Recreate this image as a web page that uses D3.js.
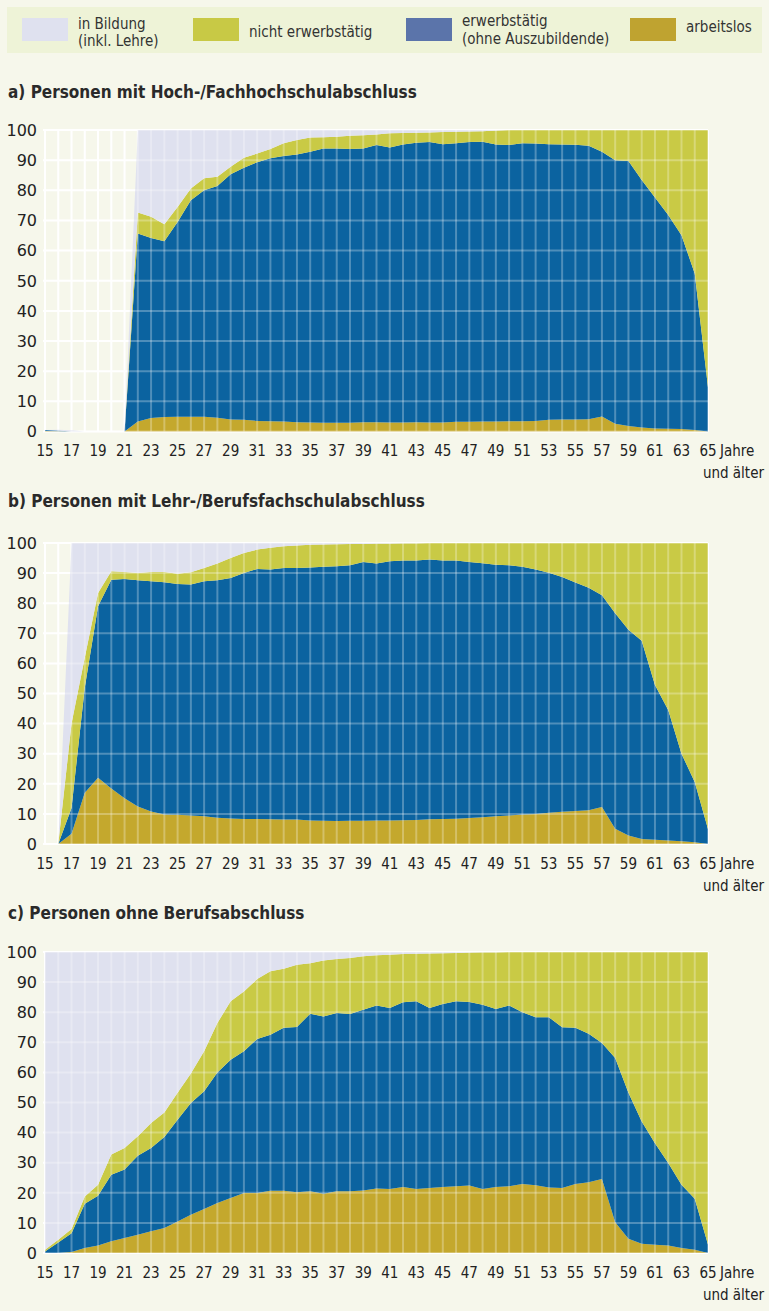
<!DOCTYPE html>
<html><head><meta charset="utf-8">
<script src="https://cdn.jsdelivr.net/npm/d3@7/dist/d3.min.js"></script>
<style>body{margin:0;background:#f6f7eb;} svg{display:block}</style>
</head><body>
<svg id="chart" width="769" height="1311"></svg>
<script>
// ---------- categories & ticks ----------
const ages = [15,16,17,18,19,20,21,22,23,24,25,26,27,28,29,30,31,32,33,34,35,36,37,38,39,40,
  41,42,43,44,45,46,47,48,49,50,51,52,53,54,55,56,57,58,59,60,61,62,63,64,65];
const xTickAges = [15,17,19,21,23,25,27,29,31,33,35,37,39,41,43,45,47,49,51,53,55,57,59,61,63,65];
const yTicks = [0,10,20,30,40,50,60,70,80,90,100];
const seriesNames = ["in Bildung\n(inkl. Lehre)", "nicht erwerbstätig", "erwerbstätig\n(ohne Auszubildende)", "arbeitslos"];

// ---------- a) Hoch-/Fachhochschulabschluss (percent, ages 15..65) ----------
const aArbeitslos = [0.2,0.1,0,0,0,0,0, 3.3,4.5,4.8,4.9,4.9,4.9,4.6,4.0,3.9,3.5,3.4,3.3,3.1,3.0,2.9,2.9,2.9,3.1,3.1,
  3.0,3.0,3.1,3.0,3.0,3.2,3.2,3.3,3.3,3.4,3.4,3.5,3.9,4.0,4.0,4.1,5.0,2.6,1.8,1.3,1.0,0.9,0.8,0.5,0.0];
const aErwerb = [0.3,0.2,0,0,0,0,0, 62.4,59.7,58.3,64.6,71.8,75.1,76.8,81.3,83.6,85.8,87.2,88.1,88.8,89.8,91.0,91.0,90.8,90.8,91.9,
  91.2,92.2,92.7,93.0,92.3,92.4,92.8,92.8,91.9,91.6,92.2,92.0,91.4,91.2,91.1,90.7,87.8,87.4,87.9,82.1,76.6,70.9,64.3,51.9,14.7];
const aNicht = [0,0,0,0,0,0,0, 6.9,7.0,5.6,5.0,3.9,4.0,3.1,2.5,3.3,2.9,3.1,4.2,4.8,4.7,3.7,3.9,4.4,4.4,3.5,
  4.7,3.8,3.3,3.2,4.0,3.8,3.5,3.5,4.6,5.0,4.4,4.5,4.7,4.8,4.9,5.2,7.2,10.0,10.3,16.6,22.4,28.2,34.9,47.6,85.3];
const aBildung = [0,0.3,0.4,0,0,0,0, 27.4,28.8,31.3,25.5,19.4,16.0,15.5,12.2,9.2,7.8,6.3,4.4,3.3,2.5,2.4,2.2,1.9,1.7,1.5,
  1.1,1.0,0.9,0.8,0.7,0.6,0.5,0.4,0.2,0,0,0,0,0,0,0,0,0,0,0,0,0,0,0,0];

// ---------- b) Lehr-/Berufsfachschulabschluss ----------
const bArbeitslos = [0,0,3.4,17.0,22.0,18.4,15.2,12.5,10.8,9.8,9.7,9.5,9.2,8.7,8.5,8.3,8.3,8.2,8.1,8.1,7.8,7.7,7.6,7.7,7.7,7.8,
  7.8,7.9,8.0,8.2,8.3,8.4,8.6,8.9,9.2,9.5,9.8,10.0,10.4,10.7,11.0,11.2,12.3,5.1,2.8,1.7,1.4,1.2,0.9,0.6,0.0];
const bErwerb = [0,0,8.6,35.0,57.0,69.4,72.8,75.1,76.5,77.2,76.7,76.7,78.1,78.9,79.9,81.7,83.1,83.0,83.6,83.6,84.1,84.4,84.7,84.9,86.0,85.4,
  86.1,86.3,86.2,86.3,85.9,85.8,85.1,84.4,83.6,83.1,82.3,81.2,79.7,78.0,75.9,73.9,70.3,71.6,68.4,65.8,51.4,43.3,29.1,20.0,5.0];
const bNicht = [0,0,28.0,10.0,4.4,2.8,2.4,2.4,3.1,3.4,3.4,4.1,4.4,5.6,6.6,6.7,6.4,7.2,7.2,7.5,7.5,7.4,7.3,7.1,6.0,6.6,
  5.9,5.7,5.7,5.5,5.8,5.8,6.3,6.7,7.2,7.4,7.9,8.8,9.9,11.3,13.1,14.9,17.4,23.3,28.8,32.5,47.2,55.5,70.0,79.4,95.0];
const bBildung = [0,0,60.0,38.0,16.6,9.4,9.6,10.0,9.6,9.6,10.2,9.7,8.3,6.8,5.0,3.3,2.2,1.6,1.1,0.8,0.6,0.5,0.4,0.3,0.3,0.2,
  0.2,0.1,0.1,0,0,0,0,0,0,0,0,0,0,0,0,0,0,0,0,0,0,0,0,0,0];

// ---------- c) ohne Berufsabschluss ----------
const cArbeitslos = [0,0,0.3,1.7,2.5,3.9,5.0,6.1,7.2,8.3,10.5,12.7,14.6,16.6,18.3,19.9,19.9,20.7,20.7,20.2,20.5,19.7,20.5,20.5,20.8,21.4,
  21.3,21.9,21.3,21.6,21.9,22.2,22.4,21.3,21.9,22.2,22.9,22.5,21.8,21.6,22.9,23.5,24.6,10.2,4.7,3.1,2.7,2.5,1.7,1.1,0.0];
const cErwerb = [0.5,3.5,6.3,14.7,16.5,22.1,22.7,26.2,27.7,30.2,33.8,37.1,39.1,43.4,45.9,47.1,51.2,51.8,54.1,54.9,59.0,58.9,59.2,58.9,60.0,60.8,
  60.1,61.4,62.3,59.8,60.8,61.4,61.0,61.2,59.2,60.0,57.1,55.8,56.5,53.4,51.9,49.3,45.2,54.6,48.5,40.6,33.8,27.4,21.0,16.9,2.8];
const cNicht = [0.6,0.9,1.4,2.4,3.7,6.7,7.2,6.5,8.3,8.2,8.9,9.8,13.3,16.4,19.4,19.9,19.9,21.1,19.6,20.7,16.8,18.6,18.0,18.6,17.8,16.7,
  17.7,16.0,15.8,18.1,16.9,16.1,16.4,17.4,18.8,17.8,20.0,21.7,21.7,25.0,25.2,27.2,30.2,35.2,46.8,56.3,63.5,70.1,77.3,82.0,97.2];
const cBildung = [98.9,95.6,92.0,81.2,77.3,67.3,65.1,61.2,56.8,53.3,46.8,40.4,33.0,23.6,16.4,13.1,9.0,6.4,5.6,4.2,3.7,2.8,2.3,2.0,1.4,1.1,
  0.9,0.7,0.6,0.5,0.4,0.3,0.2,0.1,0.1,0,0,0,0,0,0,0,0,0,0,0,0,0,0,0,0];

// ---------- styling ----------
const colBildung = "#dfe1ef", colNicht = "#c9ca45", colErwerb = "#0b63a0", colArbeitslos = "#c4a82d";
const legendColors = ["#dfe1ef", "#c8c945", "#5b74aa", "#bfa330"];
const keys = ["arbeitslos","erwerbstaetig","nicht","bildung"];
const fills = {arbeitslos: colArbeitslos, erwerbstaetig: colErwerb, nicht: colNicht, bildung: colBildung};

const panels = [
  {title:"a) Personen mit Hoch-/Fachhochschulabschluss", top:130, bottom:431.5, titleY:98,
   arbeitslos:aArbeitslos, erwerbstaetig:aErwerb, nicht:aNicht, bildung:aBildung},
  {title:"b) Personen mit Lehr-/Berufsfachschulabschluss", top:543, bottom:844, titleY:507,
   arbeitslos:bArbeitslos, erwerbstaetig:bErwerb, nicht:bNicht, bildung:bBildung},
  {title:"c) Personen ohne Berufsabschluss", top:952, bottom:1253, titleY:919,
   arbeitslos:cArbeitslos, erwerbstaetig:cErwerb, nicht:cNicht, bildung:cBildung}
];

const svg = d3.select("#chart");
const x = d3.scaleLinear().domain([15, 65]).range([45, 708]);
const condensed = "'DejaVu Sans Condensed', 'DejaVu Sans', sans-serif";

// ---------- legend ----------
svg.append("rect").attr("x", 7).attr("y", 7).attr("width", 755).attr("height", 46).attr("fill", "#eef3d7");
const legX = [22, 193, 406, 630];
const legTextY = [[29, 46], [37], [26, 44], [32]];
seriesNames.forEach((name, i) => {
  svg.append("rect").attr("x", legX[i]).attr("y", 18).attr("width", 46).attr("height", 23).attr("fill", legendColors[i]);
  const lines = name.split("\n");
  lines.forEach((ln, j) => {
    svg.append("text").attr("x", legX[i] + 56).attr("y", legTextY[i][j])
      .attr("font-family", condensed).attr("font-size", 15).attr("fill", "#333").text(ln);
  });
});

// ---------- panels ----------
panels.forEach(p => {
  const y = d3.scaleLinear().domain([0, 100]).range([p.bottom, p.top]);
  const g = svg.append("g");

  g.append("text").attr("x", 8).attr("y", p.titleY)
    .attr("font-family", condensed).attr("font-weight", "bold").attr("font-size", 17)
    .attr("fill", "#2a2a2a").text(p.title);

  // grid: opaque underneath (visible where no data), translucent on top of the areas
  const drawGrid = (sel, color, opacity) => {
    sel.selectAll(null).data(ages).join("line")
      .attr("x1", d => x(d)).attr("x2", d => x(d)).attr("y1", y(100)).attr("y2", y(0))
      .attr("stroke", color).attr("stroke-opacity", opacity).attr("stroke-width", 2);
    sel.selectAll(null).data(yTicks).join("line")
      .attr("x1", x(15) - 2).attr("x2", x(65)).attr("y1", d => y(d)).attr("y2", d => y(d))
      .attr("stroke", color).attr("stroke-opacity", opacity).attr("stroke-width", 2);
  };
  drawGrid(g.append("g"), "#ffffff", 1);

  const rows = ages.map((a, i) => ({age: a, arbeitslos: p.arbeitslos[i], erwerbstaetig: p.erwerbstaetig[i], nicht: p.nicht[i], bildung: p.bildung[i]}));
  const stacked = d3.stack().keys(keys)(rows);
  const area = d3.area().x(d => x(d.data.age)).y0(d => y(d[0])).y1(d => y(d[1]));
  g.append("g").selectAll("path").data(stacked).join("path")
    .attr("d", area).attr("fill", d => fills[d.key]);

  drawGrid(g.append("g"), "#ffffff", 0.28);

  // y axis labels
  g.selectAll(null).data(yTicks).join("text")
    .attr("x", 37).attr("y", d => y(d)).attr("dy", "0.36em").attr("text-anchor", "end")
    .attr("font-family", "'DejaVu Sans', sans-serif").attr("font-size", 16).attr("fill", "#222")
    .text(d => d);

  // x axis labels
  g.selectAll(null).data(xTickAges).join("text")
    .attr("x", d => x(d)).attr("y", p.bottom + 24.5).attr("text-anchor", "middle")
    .attr("font-family", condensed).attr("font-size", 15).attr("fill", "#222")
    .text(d => d);
  g.append("text").attr("x", x(65) + 12).attr("y", p.bottom + 24.5)
    .attr("font-family", condensed).attr("font-size", 15).attr("fill", "#222").text("Jahre");
  g.append("text").attr("x", 764).attr("y", p.bottom + 46.5).attr("text-anchor", "end")
    .attr("font-family", condensed).attr("font-size", 15).attr("fill", "#222").text("und älter");
});
</script>
</body></html>
